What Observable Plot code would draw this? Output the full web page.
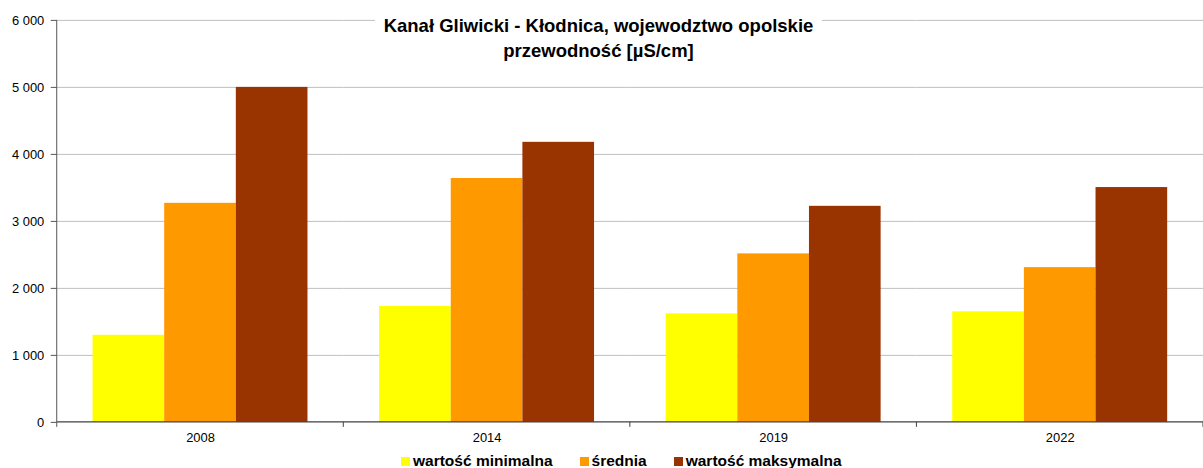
<!DOCTYPE html>
<html>
<head>
<meta charset="utf-8">
<script src="https://cdn.jsdelivr.net/npm/d3@7"></script>
<script src="https://cdn.jsdelivr.net/npm/@observablehq/plot@0.6"></script>
<style>
  html, body { margin: 0; padding: 0; background: #fff; overflow: hidden; }
  #wrap { position: relative; width: 1203px; height: 468px; overflow: hidden; font-family: "Liberation Sans", Arial, sans-serif; }
  #title { position: absolute; left: 375px; width: 447px; top: 14px; text-align: center; background: #fff;
           font-weight: bold; font-size: 18.5px; line-height: 24.5px; color: #000; }
  #legend { position: absolute; left: 401px; top: 452px; display: flex; align-items: center; gap: 27px;
            font-weight: bold; font-size: 15.5px; line-height: 18px; color: #000; white-space: nowrap; }
  .item { display: flex; align-items: center; }
  .sw { width: 9px; height: 9px; margin-right: 3px; display: inline-block; }
  #chart { position: absolute; left: 0; top: 0; }
</style>
</head>
<body>
<div id="wrap">
  <div id="chart"></div>
  <div id="title"></div>
  <div id="legend"></div>
</div>
<script>
const titleLines = ["Kanał Gliwicki - Kłodnica, wojewodztwo opolskie", "przewodność [µS/cm]"];
const years = ["2008", "2014", "2019", "2022"];
const seriesNames = ["wartość minimalna", "średnia", "wartość maksymalna"];
const seriesColors = ["#FFFF00", "#FF9900", "#993300"];
const minVals = [1300, 1730, 1620, 1650];
const meanVals = [3270, 3640, 2515, 2310];
const maxVals = [5000, 4180, 3225, 3505];
const yTicks = [0, 1000, 2000, 3000, 4000, 5000, 6000];

const seriesVals = [minVals, meanVals, maxVals];
const data = years.flatMap((year, i) =>
  seriesNames.map((s, j) => ({year, series: s, value: seriesVals[j][i]}))
);

const fmt = d => d3.format(",")(d).replace(/,/g, " ");

const W = 1209;
const chart = Plot.plot({
  width: W,
  height: 452,
  marginLeft: 56,
  marginRight: 0,
  marginTop: 20,
  marginBottom: 28,
  style: {fontFamily: "'Liberation Sans', Arial, sans-serif", fontSize: "13px", color: "#000", background: "#fff"},
  fx: {domain: years, padding: 0, label: null},
  x: {domain: seriesNames, paddingInner: 0, paddingOuter: 0.5, axis: null},
  y: {domain: [0, 6000], label: null},
  color: {domain: seriesNames, range: seriesColors},
  marks: [
    Plot.ruleY(yTicks.slice(1), {stroke: "#c0c0c0", strokeWidth: 1}),
    Plot.barY(data, {fx: "year", x: "series", y: "value", fill: "series"}),
    Plot.axisY({ticks: yTicks, tickFormat: fmt, tickSize: 6, tickPadding: 7, stroke: "#555", fontSize: 13, label: null}),
    Plot.axisFx({anchor: "bottom", tickSize: 0, tickPadding: 10, fontSize: 13, label: null})
  ]
});

// axis line, baseline and group-boundary ticks, positioned with the chart's own scales
const fxS = chart.scale("fx");
const yS = chart.scale("y");
const y0 = yS.apply(0), yTop = yS.apply(6000);
const edges = years.map(v => fxS.apply(v));
edges.push(fxS.apply(years[years.length - 1]) + fxS.bandwidth);
const svg = d3.select(chart.tagName.toLowerCase() === "svg" ? chart : chart.querySelector("svg"));
const g = svg.append("g");
g.append("line").attr("x1", edges[0]).attr("x2", W).attr("y1", y0).attr("y2", y0)
  .attr("stroke", "#404040").attr("stroke-width", 1.3);
g.append("line").attr("x1", edges[0]).attr("x2", edges[0]).attr("y1", yTop).attr("y2", y0 + 5)
  .attr("stroke", "#555").attr("stroke-width", 1);
for (const e of edges.slice(1)) {
  g.append("line").attr("x1", e).attr("x2", e).attr("y1", y0).attr("y2", y0 + 5)
    .attr("stroke", "#404040").attr("stroke-width", 1);
}
document.getElementById("chart").appendChild(chart);

const t = document.getElementById("title");
titleLines.forEach(l => { const d = document.createElement("div"); d.textContent = l; t.appendChild(d); });

const lg = document.getElementById("legend");
seriesNames.forEach((s, i) => {
  const it = document.createElement("span"); it.className = "item";
  const sw = document.createElement("span"); sw.className = "sw"; sw.style.background = seriesColors[i];
  const tx = document.createElement("span"); tx.textContent = s;
  it.appendChild(sw); it.appendChild(tx); lg.appendChild(it);
});
</script>
</body>
</html>
